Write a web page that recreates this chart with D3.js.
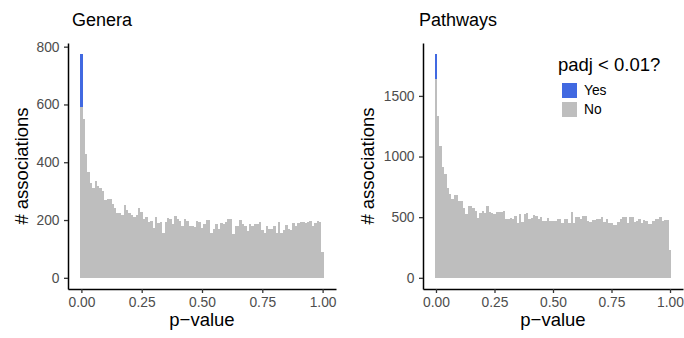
<!DOCTYPE html>
<html>
<head>
<meta charset="utf-8">
<script src="https://cdn.jsdelivr.net/npm/d3@7"></script>
<style>
  html, body { margin: 0; padding: 0; background: #fff; }
  svg { display: block; font-family: "Liberation Sans", Arial, Helvetica, sans-serif; }
</style>
</head>
<body>
<svg id="chart" width="684" height="338"></svg>
<script>
// ---- Data ----
const binWidth = 0.01;
const xTicks = [0, 0.25, 0.5, 0.75, 1];
const legendLabels = ["Yes", "No"];
const legendTitle = "padj < 0.01?";

// Genera: counts per 0.01 bin (bin i centred at i*0.01)
const generaNo = [
  592, 549, 429, 367, 327, 311, 336, 318, 311, 302,
  271, 273, 273, 257, 242, 225, 223, 218, 253, 235,
  225, 217, 211, 218, 240, 227, 203, 210, 194, 196,
  173, 210, 190, 194, 156, 193, 207, 202, 185, 213,
  203, 197, 180, 204, 196, 180, 180, 177, 196,
  194, 174, 186, 200, 200, 156, 170, 186, 170, 190,
  186, 194, 203, 203, 151, 179, 179, 200, 186, 179,
  162, 186, 179, 186, 186, 194, 165, 156, 179, 170,
  170, 179, 154, 194, 156, 165, 182, 170, 165, 190,
  179, 190, 194, 194, 190, 194, 196, 180, 190, 196,
  194, 90
];
const generaYes = [182];
const generaYTicks = [0, 200, 400, 600, 800];

// Pathways
const pathwaysNo = [
  1638, 1333, 1091, 913, 852, 737, 690, 646, 687, 679,
  632, 632, 575, 528, 591, 591, 572, 550, 495, 533,
  547, 531, 591, 544, 533, 528, 541, 539, 539, 550,
  484, 484, 497, 489, 508, 456, 525, 462, 525, 531,
  481, 497, 517, 508, 486, 503, 467, 467, 495,
  470, 470, 465, 481, 481, 453, 489, 489, 453, 539,
  453, 503, 503, 481, 509, 509, 470, 462, 476, 476,
  481, 481, 498, 462, 489, 453, 453, 434, 434, 462,
  489, 498, 498, 453, 503, 503, 462, 470, 481, 448,
  476, 470, 443, 443, 470, 481, 481, 503, 470, 476,
  476, 228
];
const pathwaysYes = [206];
const pathwaysYTicks = [0, 500, 1000, 1500];

// ---- Drawing ----
const colYes = "#4169E1", colNo = "#BEBEBE";
const svg = d3.select("#chart");

function panel(opts) {
  const { title, no, yes, yTicks, left, right, top, bottom, titleX, yLabelX, legend } = opts;
  const bins = no.map((v, i) => {
    const y = yes[i] || 0;
    return { x0: (i - 0.5) * binWidth, x1: (i + 0.5) * binWidth, no: v, yes: y, total: v + y };
  });
  const xMin = bins[0].x0, xMax = bins[bins.length - 1].x1;
  const xPad = (xMax - xMin) * 0.05;
  const x = d3.scaleLinear().domain([xMin - xPad, xMax + xPad]).range([left, right]);
  const yMax = d3.max(bins, d => d.total);
  const y = d3.scaleLinear().domain([-0.05 * yMax, 1.05 * yMax]).range([bottom, top]);

  const g = svg.append("g");
  // bars: No at bottom, Yes stacked on top
  g.append("g").selectAll("rect.no").data(bins).join("rect")
    .attr("x", d => x(d.x0)).attr("width", d => x(d.x1) - x(d.x0))
    .attr("y", d => y(d.no)).attr("height", d => y(0) - y(d.no))
    .attr("fill", colNo).attr("shape-rendering", "crispEdges");
  g.append("g").selectAll("rect.yes").data(bins.filter(d => d.yes > 0)).join("rect")
    .attr("x", d => x(d.x0)).attr("width", d => x(d.x1) - x(d.x0))
    .attr("y", d => y(d.total)).attr("height", d => y(d.no) - y(d.total))
    .attr("fill", colYes).attr("shape-rendering", "crispEdges");

  // axes
  const yAxis = d3.axisLeft(y).tickValues(yTicks).tickSize(4).tickSizeOuter(0).tickPadding(4.5)
    .tickFormat(d3.format("d"));
  const ya = g.append("g").attr("transform", `translate(${left},0)`).call(yAxis);
  const xAxis = d3.axisBottom(x).tickValues(xTicks).tickSize(4).tickSizeOuter(0).tickPadding(4)
    .tickFormat(d3.format(".2f"));
  const xa = g.append("g").attr("transform", `translate(0,${bottom})`).call(xAxis);
  [ya, xa].forEach(a => {
    a.select(".domain").attr("stroke", "#000").attr("stroke-width", 1.5);
    a.selectAll(".tick line").attr("stroke", "#333").attr("stroke-width", 1.3);
    a.selectAll(".tick text").attr("fill", "#4D4D4D").style("font-size", "13.8px")
      .style("font-family", "'Liberation Sans', Arial, sans-serif");
  });

  // titles
  g.append("text").attr("x", titleX).attr("y", 26).text(title)
    .style("font-size", "18px").attr("fill", "#000");
  g.append("text").attr("x", (left + right) / 2).attr("y", 326).attr("text-anchor", "middle")
    .text("p\u2212value").style("font-size", "18.5px").attr("fill", "#000");
  g.append("text").attr("transform", `translate(${yLabelX},${(top + bottom) / 2}) rotate(-90)`)
    .attr("text-anchor", "middle").attr("dy", "0.35em")
    .text("# associations").style("font-size", "18.5px").attr("fill", "#000");

  if (legend) {
    const lg = g.append("g");
    lg.append("text").attr("x", 558).attr("y", 71).text(legendTitle)
      .style("font-size", "18.5px").attr("fill", "#000");
    const cols = [colYes, colNo];
    legendLabels.forEach((lab, i) => {
      const ky = 83 + i * 19;
      lg.append("rect").attr("x", 562).attr("y", ky).attr("width", 15).attr("height", 15)
        .attr("fill", cols[i]);
      lg.append("text").attr("x", 584).attr("y", ky + 7.5).attr("dy", "0.35em").text(lab)
        .style("font-size", "13.8px").attr("fill", "#000");
    });
  }
}

panel({ title: "Genera", no: generaNo, yes: generaYes, yTicks: generaYTicks,
  left: 68, right: 336, top: 43, bottom: 289, titleX: 72, yLabelX: 22, legend: false });
panel({ title: "Pathways", no: pathwaysNo, yes: pathwaysYes, yTicks: pathwaysYTicks,
  left: 423, right: 683, top: 43, bottom: 289, titleX: 419, yLabelX: 368, legend: true });
</script>
</body>
</html>
